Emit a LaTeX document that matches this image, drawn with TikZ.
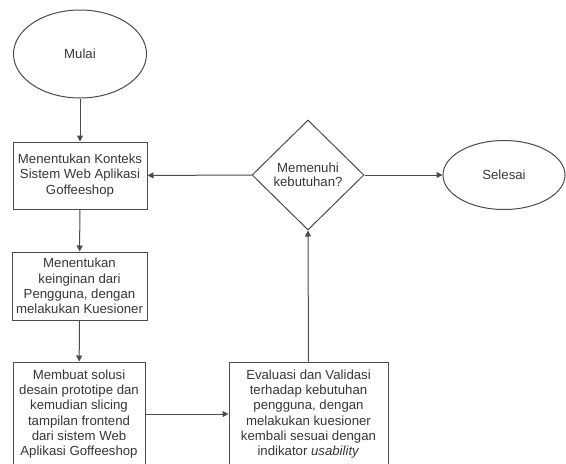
\documentclass[tikz,border=0pt]{standalone}
\usepackage{fontspec}
\setmainfont{Liberation Sans}
\usetikzlibrary{positioning,arrows.meta,shapes.geometric}
\definecolor{paper}{RGB}{255,255,255}
\definecolor{ink}{RGB}{55,55,55}
\definecolor{muted}{RGB}{75,75,75}
\tikzset{
  arrow/.style={-{Triangle[length=6pt,width=6pt]}, line width=1pt, draw=muted},
  process/.style={draw=muted, line width=1pt, fill=white, align=center, text=ink, inner sep=0pt, font=\fontsize{13.2}{15.3}\selectfont},
  terminal/.style={ellipse, draw=muted, line width=1pt, fill=white, align=center, text=ink, inner sep=0pt, font=\fontsize{13.2}{15.3}\selectfont},
  decision/.style={diamond, aspect=1, draw=muted, line width=1pt, fill=white, align=center, text=ink, inner sep=0pt, font=\fontsize{13.2}{14}\selectfont},
}

\begin{document}
\begin{tikzpicture}[x=1pt,y=-1pt]
  \clip (0,0) rectangle (566,464);
  \fill[paper] (0,0) rectangle (566,464);

  % Left column
  \node[terminal, minimum width=133pt, minimum height=88pt] (mulai) at (80,54) {Mulai};
  \node[process, minimum width=134pt, minimum height=67pt] (konteks) at (80,175.5) {Menentukan Konteks\\Sistem Web Aplikasi\\Goffeeshop};
  \node[process, minimum width=135pt, minimum height=68pt] (keinginan) at (79.5,286) {Menentukan\\keinginan dari\\Pengguna, dengan\\melakukan Kuesioner};
  \node[process, minimum width=132pt, minimum height=104pt] (solusi) at (79,414) {Membuat solusi\\desain prototipe dan\\kemudian slicing\\tampilan frontend\\dari sistem Web\\Aplikasi Goffeeshop};

  % Evaluation and decision
  \node[process, minimum width=159pt, minimum height=104pt] (evaluasi) at (308.5,414) {Evaluasi dan Validasi\\terhadap kebutuhan\\pengguna, dengan\\melakukan kuesioner\\kembali sesuai dengan\\indikator \textit{usability}};
  \node[decision, minimum width=112pt, minimum height=110pt] (cek) at (308,175) {Memenuhi\\kebutuhan?};
  \node[terminal, minimum width=122pt, minimum height=69pt] (selesai) at (504,175) {Selesai};

  % Connections
  \draw[arrow] (mulai) -- (konteks);
  \draw[arrow] (konteks) -- (keinginan);
  \draw[arrow] (keinginan) -- (solusi);
  \draw[arrow] (solusi) -- (evaluasi);
  \draw[arrow] (evaluasi.north) -- (cek.south);
  \draw[arrow] (cek) -- (konteks);
  \draw[arrow] (cek) -- (selesai);
\end{tikzpicture}
\end{document}
